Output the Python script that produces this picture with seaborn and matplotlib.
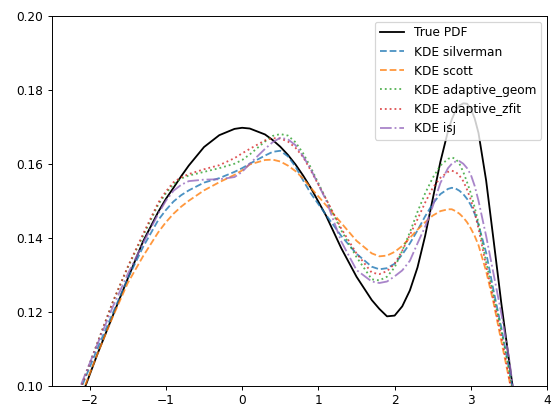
import numpy as np
import pandas as pd
import matplotlib
matplotlib.use("Agg")
import matplotlib.pyplot as plt
import seaborn as sns

# x positions the curves were read at
x = [-2.3, -2.1, -1.9, -1.7, -1.5, -1.3, -1.1, -1.0, -0.9, -0.8,
     -0.7, -0.5, -0.3, -0.1, 0.0, 0.1, 0.3, 0.4, 0.5, 0.6,
     0.7, 0.8, 0.9, 1.1, 1.3, 1.5, 1.7, 1.8, 1.9, 2.0,
     2.1, 2.2, 2.3, 2.4, 2.5, 2.6, 2.7, 2.75, 2.8, 2.85,
     2.9, 2.95, 3.0, 3.05, 3.1, 3.2, 3.3, 3.4, 3.5, 3.6]

true_pdf = [0.0875, 0.0975, 0.1085, 0.1188, 0.1290, 0.1390, 0.1470, 0.1505, 0.1535, 0.1566,
            0.1595, 0.1645, 0.1677, 0.1694, 0.1697, 0.1695, 0.1679, 0.1664, 0.1646, 0.1624,
            0.1598, 0.1568, 0.1535, 0.1460, 0.1372, 0.1295, 0.1232, 0.1208, 0.1188, 0.1190,
            0.1215, 0.1258, 0.1320, 0.1405, 0.1505, 0.1605, 0.1688, 0.1720, 0.1743, 0.1757,
            0.1763, 0.1762, 0.1748, 0.1722, 0.1683, 0.1555, 0.1390, 0.1222, 0.1070, 0.0920]

kde_silverman = [0.0890, 0.1000, 0.1100, 0.1195, 0.1290, 0.1375, 0.1448, 0.1475, 0.1498, 0.1515,
                 0.1528, 0.1549, 0.1561, 0.1578, 0.1588, 0.1600, 0.1622, 0.1632, 0.1635, 0.1620,
                 0.1592, 0.1555, 0.1520, 0.1462, 0.1405, 0.1357, 0.1322, 0.1315, 0.1318, 0.1330,
                 0.1355, 0.1385, 0.1420, 0.1458, 0.1492, 0.1518, 0.1532, 0.1535, 0.1533, 0.1527,
                 0.1518, 0.1505, 0.1488, 0.1465, 0.1435, 0.1360, 0.1255, 0.1157, 0.1047, 0.0930]

kde_scott = [0.0870, 0.0980, 0.1085, 0.1185, 0.1278, 0.1350, 0.1415, 0.1442, 0.1465, 0.1484,
             0.1500, 0.1528, 0.1550, 0.1570, 0.1582, 0.1598, 0.1610, 0.1611, 0.1606, 0.1595,
             0.1580, 0.1560, 0.1535, 0.1488, 0.1440, 0.1392, 0.1358, 0.1350, 0.1352, 0.1362,
             0.1378, 0.1400, 0.1422, 0.1442, 0.1460, 0.1472, 0.1477, 0.1477, 0.1472, 0.1465,
             0.1455, 0.1442, 0.1425, 0.1405, 0.1380, 0.1310, 0.1222, 0.1120, 0.1020, 0.0910]

kde_adaptive_geom = [0.0890, 0.1005, 0.1115, 0.1225, 0.1320, 0.1405, 0.1490, 0.1520, 0.1545, 0.1560,
                     0.1568, 0.1578, 0.1588, 0.1600, 0.1610, 0.1625, 0.1660, 0.1675, 0.1680, 0.1676,
                     0.1658, 0.1628, 0.1590, 0.1505, 0.1420, 0.1348, 0.1288, 0.1285, 0.1295, 0.1320,
                     0.1365, 0.1415, 0.1470, 0.1520, 0.1562, 0.1595, 0.1613, 0.1617, 0.1613, 0.1600,
                     0.1578, 0.1550, 0.1520, 0.1482, 0.1440, 0.1335, 0.1243, 0.1150, 0.1045, 0.0930]

kde_adaptive_zfit = [0.0890, 0.1005, 0.1115, 0.1225, 0.1322, 0.1410, 0.1495, 0.1525, 0.1550, 0.1563,
                     0.1572, 0.1585, 0.1596, 0.1615, 0.1628, 0.1640, 0.1663, 0.1669, 0.1668, 0.1660,
                     0.1643, 0.1618, 0.1582, 0.1505, 0.1425, 0.1358, 0.1306, 0.1302, 0.1310, 0.1330,
                     0.1365, 0.1408, 0.1450, 0.1495, 0.1535, 0.1562, 0.1578, 0.1581, 0.1578, 0.1568,
                     0.1553, 0.1530, 0.1502, 0.1468, 0.1425, 0.1325, 0.1232, 0.1135, 0.1025, 0.0910]

kde_isj = [0.0895, 0.1010, 0.1112, 0.1212, 0.1302, 0.1385, 0.1465, 0.1500, 0.1527, 0.1543,
           0.1553, 0.1557, 0.1558, 0.1564, 0.1578, 0.1600, 0.1640, 0.1658, 0.1670, 0.1666,
           0.1650, 0.1620, 0.1585, 0.1502, 0.1390, 0.1313, 0.1282, 0.1278, 0.1282, 0.1296,
           0.1312, 0.1338, 0.1385, 0.1430, 0.1485, 0.1548, 0.1588, 0.1600, 0.1606, 0.1607,
           0.1600, 0.1588, 0.1570, 0.1540, 0.1500, 0.1405, 0.1300, 0.1195, 0.1077, 0.0920]

# (label, values, color, linestyle)
series = [
    ("KDE silverman", kde_silverman, "C0", "--"),
    ("KDE scott", kde_scott, "C1", "--"),
    ("KDE adaptive_geom", kde_adaptive_geom, "C2", ":"),
    ("KDE adaptive_zfit", kde_adaptive_zfit, "C3", ":"),
    ("KDE isj", kde_isj, "C4", "-."),
]

fig, ax = plt.subplots(figsize=(6.4, 4.8), dpi=87.5)
fig.subplots_adjust(left=0.092, right=0.977, bottom=0.081, top=0.963)

sns.lineplot(x=x, y=true_pdf, ax=ax, color="k", label="True PDF")
for label, vals, color, ls in series:
    sns.lineplot(x=x, y=vals, ax=ax, color=color, linestyle=ls, alpha=0.8, label=label)

ax.set_xlim(-2.5, 4)
ax.set_ylim(0.1, 0.2)
ax.legend(loc="upper right")

fig.savefig("out.png", dpi=87.5)
